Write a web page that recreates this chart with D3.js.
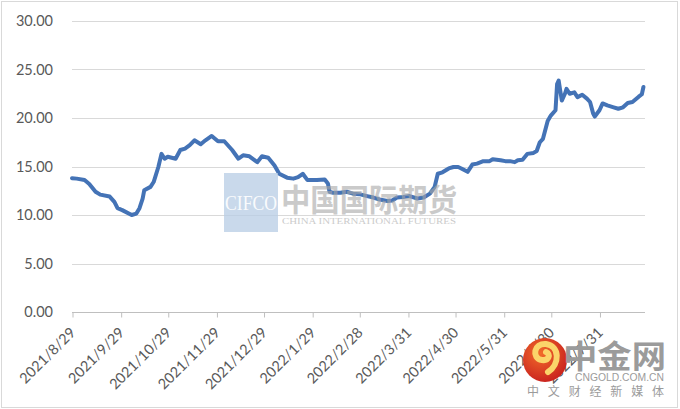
<!DOCTYPE html>
<html>
<head>
<meta charset="utf-8">
<script src="https://cdn.jsdelivr.net/npm/d3@7"></script>
<style>
  html, body { margin: 0; padding: 0; background: #ffffff; }
  svg { display: block; }
</style>
</head>
<body>
<svg id="chart" width="680" height="409"></svg>
<script>
// ---------------- data ----------------
const dates = [
  "2021/8/29","2021/9/1","2021/9/6","2021/9/9","2021/9/13","2021/9/16","2021/9/22","2021/9/25",
  "2021/9/27","2021/9/30","2021/10/6","2021/10/9","2021/10/11","2021/10/13","2021/10/14","2021/10/18",
  "2021/10/20","2021/10/21","2021/10/23","2021/10/25","2021/10/27","2021/10/29","2021/11/3","2021/11/6",
  "2021/11/9","2021/11/12","2021/11/15","2021/11/19","2021/11/22","2021/11/26","2021/11/30","2021/12/4",
  "2021/12/9","2021/12/13","2021/12/16","2021/12/20","2021/12/25","2021/12/28","2022/1/1","2022/1/5",
  "2022/1/8","2022/1/13","2022/1/17","2022/1/20","2022/1/23","2022/1/26","2022/2/1","2022/2/6",
  "2022/2/8","2022/2/9","2022/2/11","2022/2/16","2022/2/20","2022/2/24","2022/2/28","2022/3/5",
  "2022/3/9","2022/3/13","2022/3/18","2022/3/21","2022/3/24","2022/3/28","2022/4/1","2022/4/6",
  "2022/4/10","2022/4/14","2022/4/17","2022/4/19","2022/4/22","2022/4/26","2022/4/29","2022/5/2",
  "2022/5/4","2022/5/8","2022/5/11","2022/5/14","2022/5/18","2022/5/22","2022/5/24","2022/5/29",
  "2022/6/1","2022/6/4","2022/6/7","2022/6/9","2022/6/12","2022/6/15","2022/6/19","2022/6/21",
  "2022/6/23","2022/6/25","2022/6/28","2022/6/30","2022/7/3","2022/7/4","2022/7/5","2022/7/7",
  "2022/7/9","2022/7/10","2022/7/12","2022/7/15","2022/7/17","2022/7/20","2022/7/23","2022/7/25",
  "2022/7/27","2022/7/28","2022/7/31","2022/8/2","2022/8/5","2022/8/9","2022/8/12","2022/8/15",
  "2022/8/18","2022/8/21","2022/8/25","2022/8/27","2022/8/28"
];
const values = [
  13.8,13.75,13.6,13.2,12.4,12.1,11.9,11.35,
  10.7,10.5,10.0,10.15,10.7,11.7,12.55,12.9,
  13.4,13.9,14.95,16.3,15.8,16.0,15.8,16.7,
  16.85,17.2,17.7,17.3,17.7,18.15,17.6,17.6,
  16.7,15.8,16.15,16.05,15.45,16.05,15.9,15.1,
  14.25,13.85,13.75,13.9,14.25,13.6,13.6,13.65,
  13.25,12.4,12.3,12.3,12.4,12.2,12.15,11.95,
  11.8,11.6,11.45,11.5,11.8,11.85,11.95,11.7,
  11.8,12.2,12.9,14.25,14.4,14.8,14.95,14.95,
  14.8,14.45,15.2,15.3,15.55,15.55,15.75,15.65,
  15.55,15.55,15.45,15.65,15.7,16.3,16.4,16.6,
  17.5,17.85,19.7,20.25,20.8,23.5,23.85,21.8,
  22.5,23.0,22.5,22.65,22.15,22.4,22.0,21.65,
  20.45,20.15,20.8,21.5,21.3,21.1,20.95,21.1,
  21.55,21.65,22.2,22.45,23.2
];
const xTickLabels = ["2021/8/29","2021/9/29","2021/10/29","2021/11/29","2021/12/29","2022/1/29",
  "2022/2/28","2022/3/31","2022/4/30","2022/5/31","2022/6/30","2022/7/31"];
const yTicks = [0, 5, 10, 15, 20, 25, 30];
const domainStart = "2021/8/29";
const domainEnd = "2022/8/29";

// ---------------- chart ----------------
const parse = d3.timeParse("%Y/%m/%d");
const data = dates.map((d, i) => ({ date: parse(d), value: values[i] }));

const svg = d3.select("#chart");
const W = 680, H = 409;
const plot = { left: 72, right: 645, top: 21, bottom: 312 };

// outer frame
svg.append("rect").attr("x", 1.5).attr("y", 1.5).attr("width", W - 4).attr("height", H - 3)
  .attr("fill", "#fff").attr("stroke", "#d9d9d9").attr("stroke-width", 1);

const x = d3.scaleTime().domain([parse(domainStart), parse(domainEnd)]).range([plot.left, plot.right]);
const y = d3.scaleLinear().domain([0, 30]).range([plot.bottom, plot.top]);

const textColor = "#595959";
const font = "Lato, 'Liberation Sans', Arial, sans-serif";

// gridlines
svg.append("g").selectAll("line").data(yTicks.filter(t => t > 0)).join("line")
  .attr("x1", plot.left).attr("x2", plot.right)
  .attr("y1", d => Math.round(y(d)) + 0.5).attr("y2", d => Math.round(y(d)) + 0.5)
  .attr("stroke", "#d9d9d9").attr("stroke-width", 1);

// y labels
svg.append("g").selectAll("text").data(yTicks).join("text")
  .attr("x", 53).attr("y", d => y(d)).attr("dy", "0.36em")
  .attr("text-anchor", "end").attr("fill", textColor)
  .style("font-family", font).style("font-size", "14.5px")
  .text(d => d.toFixed(2));

// x axis
const tickDates = xTickLabels.map(parse);
const xAxis = d3.axisBottom(x).tickValues(tickDates).tickSize(5).tickFormat((d, i) => xTickLabels[i]);
const gx = svg.append("g").attr("transform", `translate(0,${plot.bottom + 0.5})`).call(xAxis);
gx.select(".domain").attr("stroke", "#bfbfbf").attr("d", `M${plot.left},0H${plot.right}`);
gx.selectAll(".tick line").attr("stroke", "#bfbfbf").attr("x1", 0.5).attr("x2", 0.5);
gx.selectAll(".tick text")
  .attr("fill", textColor)
  .style("font-family", font).style("font-size", "14.5px")
  .attr("text-anchor", "end")
  .attr("dy", null)
  .attr("x", 0).attr("y", 0)
  .attr("transform", "translate(4,21) rotate(-45)");

// line
const line = d3.line().x(d => x(d.date)).y(d => y(d.value));
svg.append("path").datum(data)
  .attr("d", line)
  .attr("fill", "none")
  .attr("stroke", "#4473b6")
  .attr("stroke-width", 4)
  .attr("stroke-linejoin", "round")
  .attr("stroke-linecap", "round");

// ---------------- watermarks ----------------
const wm = svg.append("g").attr("pointer-events", "none");
wm.append("rect").attr("x", 224).attr("y", 173).attr("width", 54).attr("height", 59)
  .attr("fill", "#b7cce4").attr("opacity", 0.75);
wm.append("text").attr("x", 225).attr("y", 210).attr("textLength", 52).attr("lengthAdjust", "spacingAndGlyphs")
  .attr("fill", "#ffffff").attr("opacity", 0.9)
  .style("font-family", "'Liberation Serif', serif").style("font-size", "21px").text("CIFCO");
wm.append("text").attr("x", 281).attr("y", 211).attr("textLength", 176).attr("lengthAdjust", "spacingAndGlyphs")
  .attr("fill", "#a8a8a8").attr("opacity", 0.6)
  .style("font-family", "'Noto Sans CJK SC', sans-serif").style("font-size", "31px").style("font-weight", "bold")
  .text("中国国际期货");
wm.append("text").attr("x", 282).attr("y", 224).attr("textLength", 174).attr("lengthAdjust", "spacingAndGlyphs")
  .attr("fill", "#a8a8a8").attr("opacity", 0.6)
  .style("font-family", "'Liberation Serif', serif").style("font-size", "8px")
  .text("CHINA INTERNATIONAL FUTURES");

// cngold logo
const defs = svg.append("defs");
const rg = defs.append("radialGradient").attr("id", "logoGrad").attr("cx", "40%").attr("cy", "35%").attr("r", "70%");
rg.append("stop").attr("offset", "0%").attr("stop-color", "#f26b2a");
rg.append("stop").attr("offset", "100%").attr("stop-color", "#c8201e");
wm.append("circle").attr("cx", 545).attr("cy", 360).attr("r", 22).attr("fill", "url(#logoGrad)");
wm.append("path")
  .attr("d", "M548,372 C560,364 560,346 546,344 C534,343 531,358 542,360 C549,361 551,354 546,352")
  .attr("fill", "none").attr("stroke", "#fbd46a").attr("stroke-width", 6).attr("stroke-linecap", "round");
wm.append("text").attr("x", 563).attr("y", 368).attr("textLength", 103).attr("lengthAdjust", "spacingAndGlyphs")
  .attr("fill", "#9b9b9b")
  .style("font-family", "'Noto Sans CJK SC', sans-serif").style("font-size", "32px").style("font-weight", "bold")
  .text("中金网");
wm.append("text").attr("x", 575).attr("y", 381).attr("textLength", 89).attr("lengthAdjust", "spacingAndGlyphs")
  .attr("fill", "#9b9b9b")
  .style("font-family", "'Liberation Sans', sans-serif").style("font-size", "10px")
  .text("CNGOLD.COM.CN");
wm.append("text").attr("x", 527).attr("y", 396).attr("textLength", 137).attr("lengthAdjust", "spacing")
  .attr("fill", "#9b9b9b")
  .style("font-family", "'Noto Sans CJK SC', sans-serif").style("font-size", "12px")
  .text("中文财经新媒体");
</script>
</body>
</html>
